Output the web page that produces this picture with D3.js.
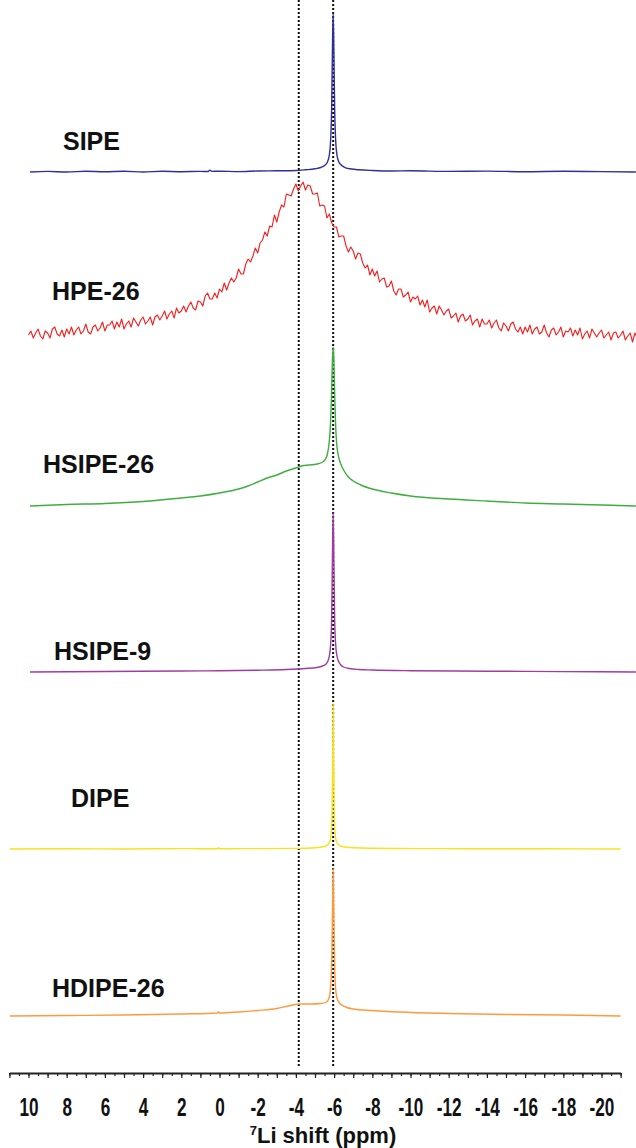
<!DOCTYPE html>
<html>
<head>
<meta charset="utf-8">
<script src="https://cdn.jsdelivr.net/npm/d3@7"></script>
<style>
  body { margin: 0; background: #fff; }
  svg { display: block; font-family: "Liberation Sans", Arial, sans-serif; }
</style>
</head>
<body>
<svg width="636" height="1148"></svg>
<script>
(function () {
    'use strict'

    // spectra names, top to bottom
    const names = ['SIPE', 'HPE-26', 'HSIPE-26', 'HSIPE-9', 'DIPE', 'HDIPE-26'];

    // stacking offset of each spectrum (a.u.)
    const offsets = [900, 735, 566, 400, 223, 56];

    // SIPE
    const sipePpm = [9.92, 9, 8, 7, 6, 5, 4, 3, 2, 1, 0.6, 0.5, 0.4, 0, -1, -2, -3, -4, -4.5, -5, -5.3, -5.5, -5.65, -5.75, -5.82, -5.87, -5.91, -5.95, -5.99, -6.03, -6.08, -6.15, -6.25, -6.4, -6.6, -6.9, -7.3, -8, -9, -10, -12, -14, -16, -18, -20, -21.8];
    const sipeVal = [0, 0.6, 0, 0.8, 0.2, 0.7, 0, 0.8, 0.3, 0.6, 0.5, 1.8, 0.6, 0.8, 0.4, 1.0, 1.2, 1.5, 2.2, 3.2, 4.5, 6.5, 10, 17, 32, 62, 118, 159, 118, 62, 32, 17, 10, 6.5, 4.2, 3, 2.2, 1.5, 1, 1.2, 0.6, 0.9, 0.3, 0.7, 0.4, 0];

    // HPE-26, sampled every 0.125 ppm from 10 ppm (one row = 2 ppm)
    const hpeStart = 10, hpeStep = 0.125;
    const hpeVal = [
        2, 6, -1, 4, 8, 1, -2, 6, 4, -1, 8, 10, 3, 1, 7, 0,
        8, 3, 10, 2, 7, 10, 3, 6, 13, 5, 3, 10, 12, 6, 9, 15,
        6, 12, 12, 16, 8, 15, 10, 18, 8, 13, 16, 10, 19, 15, 11, 17,
        20, 13, 16, 20, 12, 20, 22, 17, 21, 26, 18, 23, 26, 19, 29, 24,
        26, 31, 25, 31, 35, 29, 27, 36, 35, 31, 41, 44, 38, 38, 44, 39,
        48, 45, 54, 47, 54, 59, 55, 59, 68, 63, 63, 73, 78, 75, 81, 89,
        84, 94, 97, 105, 101, 111, 110, 122, 115, 125, 132, 130, 143, 142, 141, 148,
        153, 146, 151, 155, 147, 152, 151, 143, 143, 144, 131, 132, 131, 119, 123, 114,
        110, 110, 100, 101, 101, 91, 85, 90, 86, 78, 84, 83, 74, 69, 72, 62,
        68, 61, 66, 55, 58, 59, 50, 51, 56, 46, 42, 48, 48, 40, 42, 45,
        35, 40, 38, 41, 32, 37, 30, 37, 25, 29, 31, 23, 31, 27, 22, 26,
        28, 19, 21, 24, 15, 21, 23, 16, 18, 22, 12, 16, 18, 10, 18, 13,
        13, 17, 9, 14, 17, 9, 6, 14, 11, 6, 13, 15, 8, 5, 10, 3,
        10, 5, 12, 3, 8, 10, 3, 5, 12, 4, 0, 7, 9, 2, 5, 10,
        0, 6, 5, 9, 1, 7, 2, 9, -2, 3, 6, -1, 8, 4, 0, 4,
        7, -1, 2, 5, -3, 4, 5, -1, 2, 6, -3, 1, 4, -5, 4, -1
    ];

    // HSIPE-26
    const hsipe26Ppm = [9.92, 8, 6, 4, 2, 1, 0, -1, -1.5, -2, -2.5, -3, -3.5, -4, -4.3, -4.7, -5.1, -5.4, -5.55, -5.65, -5.72, -5.78, -5.83, -5.87, -5.91, -5.95, -5.99, -6.03, -6.07, -6.12, -6.18, -6.25, -6.35, -6.5, -6.7, -7, -7.4, -8, -9, -10, -12, -14, -16, -18, -21.8];
    const hsipe26Val = [0, 1.5, 2.5, 4.5, 8, 10, 13, 17, 20, 24, 28, 31, 35, 38, 40, 41, 42, 44, 47, 52, 60, 72, 90, 115, 145, 159, 145, 112, 86, 66, 55, 48, 42, 36, 30, 25, 21, 17, 13, 10, 7, 5, 3, 2, 0];

    // HSIPE-9
    const hsipe9Ppm = [9.92, 6, 2, 0, -2, -3.5, -4.5, -5.1, -5.4, -5.55, -5.65, -5.75, -5.82, -5.87, -5.91, -5.95, -5.99, -6.03, -6.08, -6.15, -6.25, -6.35, -6.5, -6.8, -7.3, -8, -10, -14, -18, -21.8];
    const hsipe9Val = [0, 0.5, 1, 1.3, 1.8, 2.5, 3.5, 4.5, 6, 7.5, 10, 16, 28, 52, 110, 159, 110, 52, 28, 16, 10, 7, 5, 3.5, 2.5, 2, 1.3, 0.8, 0.4, 0];

    // DIPE
    const dipePpm = [10.97, 8, 5, 2, 0.1, 0.05, 0, -0.5, -2, -4, -5, -5.5, -5.7, -5.8, -5.86, -5.9, -5.93, -5.95, -5.97, -6.0, -6.04, -6.1, -6.2, -6.4, -7, -9, -13, -17, -21];
    const dipeVal = [0, 0.3, 0, 0.4, 0.2, 1.2, 0.2, 0.3, 0.4, 0.6, 1.2, 2.5, 5, 9, 20, 45, 95, 145, 95, 45, 20, 9, 5, 2.5, 1.2, 0.5, 0.3, 0.2, 0];

    // HDIPE-26
    const hdipePpm = [10.97, 8, 5, 2, 0.1, 0.05, 0, -1, -2, -3, -3.6, -4.2, -4.8, -5.3, -5.6, -5.75, -5.83, -5.88, -5.92, -5.95, -5.98, -6.02, -6.07, -6.15, -6.3, -6.6, -7, -8, -9.4, -12, -15, -18, -21];
    const hdipeVal = [0, 0.5, 1, 2, 3, 4.2, 3, 4, 5.5, 7.5, 10, 12, 12, 12.5, 14, 19, 32, 60, 110, 148, 110, 60, 30, 18, 12.5, 9, 7, 5.5, 4, 2.5, 1.5, 1, 0];

    // reference shifts (dotted lines)
    const refShifts = [-4.15, -5.95];

    // axis tick labels
    const tickLabels = [10, 8, 6, 4, 2, 0, -2, -4, -6, -8, -10, -12, -14, -16, -18, -20];

    const colors = ['#2e2e9e', '#f81d1d', '#3fae3f', '#a03ca0', '#f7e21e', '#ff9a3c'];

    // label placement (px)
    const labelPos = [[63, 150], [52, 300], [43, 473], [54, 660], [71, 807], [52, 997]];

    const spectra = [
        sipePpm.map((p, i) => [p, sipeVal[i]]),
        hpeVal.map((v, i) => [hpeStart - i * hpeStep, v]),
        hsipe26Ppm.map((p, i) => [p, hsipe26Val[i]]),
        hsipe9Ppm.map((p, i) => [p, hsipe9Val[i]]),
        dipePpm.map((p, i) => [p, dipeVal[i]]),
        hdipePpm.map((p, i) => [p, hdipeVal[i]])
    ];

    let svg = d3.select('svg'),
        axisY = 1073;

    // ppm -> px (reversed NMR axis)
    let x = d3.scaleLinear()
        .domain([11, -21])
        .range([9.4, 620.6]);

    // intensity (a.u.) -> px
    let y = d3.scaleLinear()
        .domain([0, 1060])
        .range([1072, 12]);

    // dotted reference lines
    svg.selectAll('line.ref')
        .data(refShifts)
        .enter()
        .append('line')
        .attr('class', 'ref')
        .attr('x1', d => x(d))
        .attr('x2', d => x(d))
        .attr('y1', 0)
        .attr('y2', axisY - 5)
        .attr('stroke', '#111')
        .attr('stroke-width', 2)
        .attr('stroke-dasharray', '2,2');

    // spectra
    spectra.forEach(function (data, k) {
        let line = d3.line()
            .x(d => x(d[0]))
            .y(d => y(d[1] + offsets[k]))
            .curve(k === 1 ? d3.curveLinear : d3.curveMonotoneX);

        svg.append('path')
            .datum(data)
            .attr('fill', 'none')
            .attr('stroke', colors[k])
            .attr('stroke-width', k === 1 ? 1.1 : 1.4)
            .attr('stroke-linejoin', 'round')
            .attr('d', line);

        svg.append('text')
            .attr('x', labelPos[k][0])
            .attr('y', labelPos[k][1])
            .attr('font-size', 25)
            .attr('font-weight', 'bold')
            .attr('fill', '#111')
            .text(names[k]);
    });

    // minor ticks every 0.5 ppm
    svg.append('g')
        .attr('transform', 'translate(0,' + axisY + ')')
        .call(d3.axisBottom(x)
            .tickValues(d3.range(11, -21.01, -0.5))
            .tickSize(3)
            .tickSizeOuter(0)
            .tickFormat(''))
        .call(g => g.selectAll('line').attr('stroke', '#222').attr('stroke-width', 1.2))
        .call(g => g.select('.domain').attr('stroke', '#222').attr('stroke-width', 2));

    // major ticks every 1 ppm
    svg.append('g')
        .attr('transform', 'translate(0,' + axisY + ')')
        .call(d3.axisBottom(x)
            .tickValues(d3.range(11, -21.01, -1))
            .tickSize(5)
            .tickSizeOuter(0)
            .tickFormat(''))
        .call(g => g.select('.domain').remove())
        .call(g => g.selectAll('line').attr('stroke', '#222').attr('stroke-width', 1.2));

    // labels
    svg.append('g')
        .attr('transform', 'translate(0,' + axisY + ')')
        .call(d3.axisBottom(x)
            .tickValues(tickLabels)
            .tickSize(0)
            .tickFormat(d => String(d)))
        .call(g => g.select('.domain').remove())
        .call(g => g.selectAll('text')
            .attr('y', 43)
            .attr('dy', 0)
            .attr('transform', 'scale(0.66,1)')
            .attr('font-size', 26)
            .attr('font-weight', 'bold')
            .attr('font-family', '"Liberation Sans", Arial, sans-serif')
            .attr('fill', '#111'));

    // axis title
    let title = svg.append('text')
        .attr('x', 323)
        .attr('y', 1143)
        .attr('text-anchor', 'middle')
        .attr('font-size', 22)
        .attr('font-weight', 'bold')
        .attr('fill', '#111');
    title.append('tspan')
        .attr('font-size', 13)
        .attr('dy', -8)
        .text('7');
    title.append('tspan')
        .attr('dy', 8)
        .text('Li shift (ppm)');

    console.log('chart drawn')
})();
</script>
</body>
</html>
